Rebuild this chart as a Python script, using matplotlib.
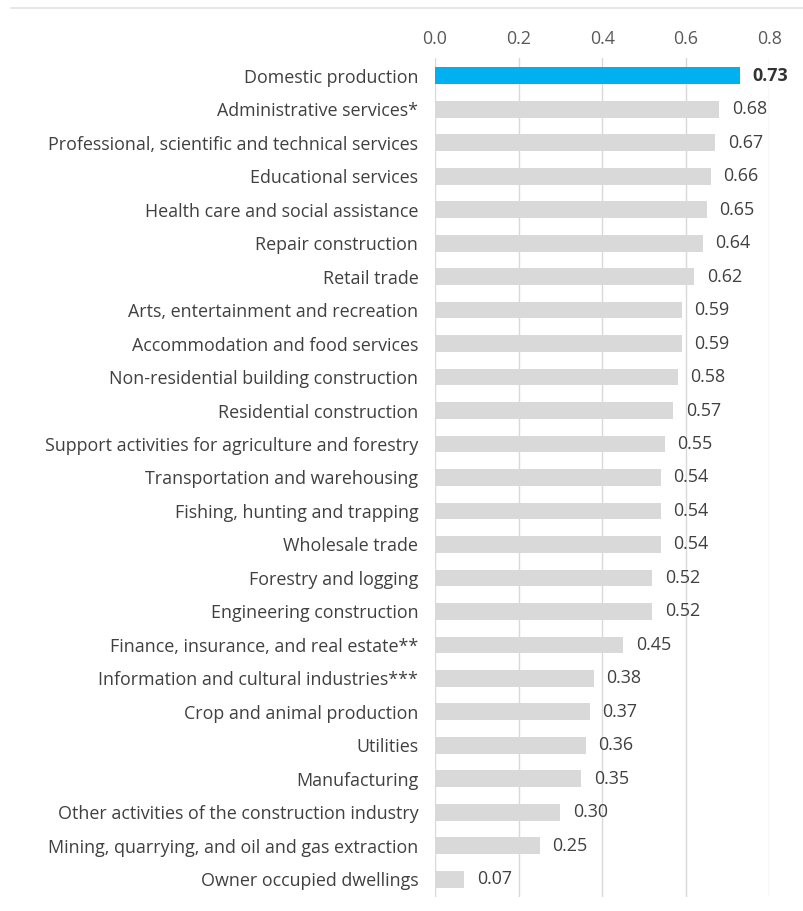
import matplotlib
matplotlib.use("Agg")
import matplotlib.pyplot as plt
from matplotlib.lines import Line2D

categories = [
    "Domestic production",
    "Administrative services*",
    "Professional, scientific and technical services",
    "Educational services",
    "Health care and social assistance",
    "Repair construction",
    "Retail trade",
    "Arts, entertainment and recreation",
    "Accommodation and food services",
    "Non-residential building construction",
    "Residential construction",
    "Support activities for agriculture and forestry",
    "Transportation and warehousing",
    "Fishing, hunting and trapping",
    "Wholesale trade",
    "Forestry and logging",
    "Engineering construction",
    "Finance, insurance, and real estate**",
    "Information and cultural industries***",
    "Crop and animal production",
    "Utilities",
    "Manufacturing",
    "Other activities of the construction industry",
    "Mining, quarrying, and oil and gas extraction",
    "Owner occupied dwellings",
]
values = [0.73, 0.68, 0.67, 0.66, 0.65, 0.64, 0.62, 0.59, 0.59, 0.58, 0.57,
          0.55, 0.54, 0.54, 0.54, 0.52, 0.52, 0.45, 0.38, 0.37, 0.36, 0.35,
          0.30, 0.25, 0.07]
x_ticks = [0.0, 0.2, 0.4, 0.6, 0.8]

plt.rcParams["font.family"] = ["Open Sans", "DejaVu Sans"]

BLUE = "#00B0F0"
GRAY = "#D9D9D9"
TEXT = "#404040"
FS = 12.9

fig = plt.figure(figsize=(8.04, 9.11), dpi=100)
ax = fig.add_axes([435 / 804, 1 - 897 / 911, (769.5 - 435) / 804, (897 - 58) / 911])

n = len(categories)
ypos = list(range(n))
colors = [BLUE] + [GRAY] * (n - 1)
ax.barh(ypos, values, height=0.5, color=colors, zorder=2)

ax.set_xlim(0, 0.8)
ax.set_ylim(n - 0.47, -0.53)
ax.set_xticks(x_ticks)
ax.set_xticklabels([f"{t:.1f}" for t in x_ticks])
ax.xaxis.tick_top()
ax.tick_params(axis="x", length=0, pad=7, labelsize=FS, labelcolor="#595959")
ax.set_yticks(ypos)
ax.set_yticklabels(categories)
ax.tick_params(axis="y", length=0, pad=12, labelsize=FS, labelcolor=TEXT)
ax.grid(axis="x", color=GRAY, linewidth=1, zorder=0)
ax.set_axisbelow(True)
for s in ax.spines.values():
    s.set_visible(False)

for i, v in enumerate(values):
    ax.annotate(f"{v:.2f}", xy=(v, i), xytext=(9, 0), textcoords="offset points",
                ha="left", va="center", fontsize=FS, color=TEXT if i else "#333333",
                fontweight="bold" if i == 0 else "normal", annotation_clip=False)

# thin rule across the top of the figure
fig.add_artist(Line2D([11 / 804, 1.0], [1 - 8 / 911, 1 - 8 / 911],
                      transform=fig.transFigure, color="#E3E3E3", linewidth=1.2))

fig.savefig("out.png", dpi=100, facecolor="white")
